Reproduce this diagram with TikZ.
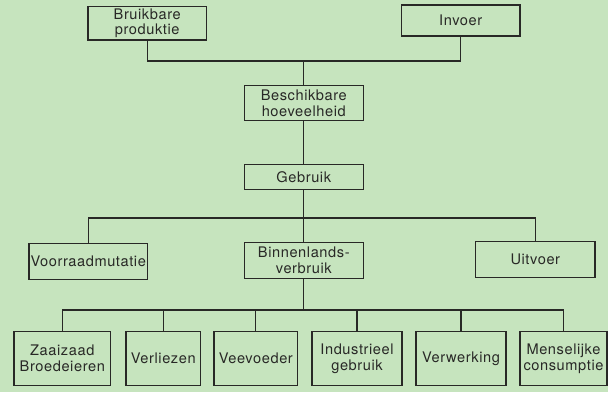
\documentclass[tikz,border=0pt]{standalone}
\usepackage{fontspec}
\setmainfont{TeX Gyre Heros}[LetterSpace=4]
\definecolor{paper}{RGB}{198,228,190}
\definecolor{ink}{RGB}{40,40,38}
\begin{document}
\begin{tikzpicture}[x=1pt,y=-1pt,
  box/.style={draw=ink, line width=1.1pt, rectangle, inner sep=0pt, align=center,
    text=ink, font=\fontsize{14.6}{15.8}\selectfont},
  link/.style={draw=ink, line width=1.1pt}]
  % paper and page frame
  \fill[paper] (0,0) rectangle (608,392);
  \useasboundingbox (0,0) rectangle (608,392);

  % supply side
  \node[box, minimum width=118.5pt, minimum height=33.5pt] (bp) at (147.2,23.2) {Bruikbare\\produktie};
  \node[box, minimum width=118.5pt, minimum height=31pt] (inv) at (460.7,20.5) {Invoer};
  \node[box, minimum width=119.5pt, minimum height=34.3pt] (besch) at (303.8,102.9) {Beschikbare\\hoeveelheid};
  \node[box, minimum width=119.5pt, minimum height=25.3pt] (geb) at (303.8,176.7) {Gebruik};

  % use
  \node[box, minimum width=118.7pt, minimum height=35.7pt] (voor) at (88.3,261.2) {Voorraadmutatie};
  \node[box, minimum width=119.5pt, minimum height=36pt] (binn) at (303.8,260.3) {Binnenlands-\\verbruik};
  \node[box, minimum width=119.3pt, minimum height=35.6pt] (uit) at (535.3,259.5) {Uitvoer};

  % domestic consumption
  \node[box, minimum width=96.7pt, minimum height=53.8pt] (zaai) at (62.3,358.6) {Zaaizaad\\Broedeieren};
  \node[box, minimum width=74.7pt, minimum height=53.8pt] (verl) at (163.3,358.6) {Verliezen};
  \node[box, minimum width=83.7pt, minimum height=53.8pt] (veev) at (255.8,358.6) {Veevoeder};
  \node[box, minimum width=90pt, minimum height=53.8pt] (ind) at (357,358.6) {Industrieel\\gebruik};
  \node[box, minimum width=90pt, minimum height=53.8pt] (verw) at (461,358.6) {Verwerking};
  \node[box, minimum width=87pt, minimum height=53.8pt] (mens) at (563.5,358.6) {Menselijke\\consumptie};

  % junction points on the horizontal bars
  \coordinate (j1) at (303.8,61);
  \coordinate (j2) at (303.8,218);
  \coordinate (j3) at (303.8,310);

  % connectors
  \draw[link] (bp.south) -- (bp.south |- j1) -- (inv.south |- j1) -- (inv.south);
  \draw[link] (j1) -- (besch.north);
  \draw[link] (besch.south) -- (geb.north);
  \draw[link] (geb.south) -- (binn.north);
  \draw[link] (voor.north) -- (voor.north |- j2) -- (uit.north |- j2) -- (uit.north);
  \draw[link] (binn.south) -- (j3);
  \draw[link] (zaai.north) -- (zaai.north |- j3) -- (mens.north |- j3) -- (mens.north);
  \foreach \n in {verl,veev,ind,verw}
    \draw[link] (\n.north) -- (\n.north |- j3);
\end{tikzpicture}
\end{document}
